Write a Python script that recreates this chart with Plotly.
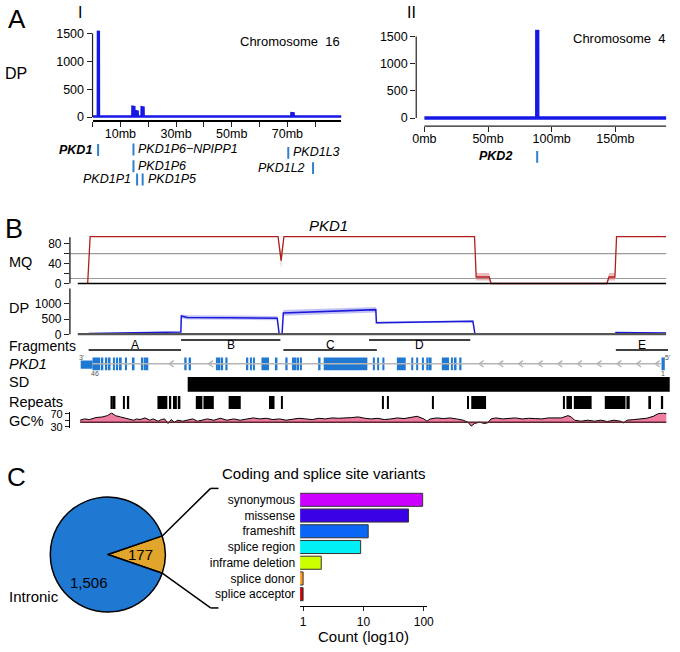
import math
import plotly.graph_objects as go

W, H = 680, 652
FONT = "Liberation Sans, Arial, Helvetica, sans-serif"

# ======================= DATA =======================
# ---- Panel A-I : chromosome 16 read depth (position Mb, DP)
chr16_mb = [0.0, 1.9, 1.95, 2.25, 2.3, 14.3, 14.35, 15.0, 15.05, 15.55, 15.6, 16.2, 16.25,
            17.6, 17.65, 18.3, 18.35, 71.4, 71.45, 72.2, 72.25, 89.4]
chr16_dp = [12, 12, 1530, 1530, 12, 12, 185, 180, 12, 12, 105, 100, 12,
            12, 175, 170, 12, 12, 70, 65, 12, 12]
chr16_tick_mb = [0, 10, 20, 30, 40, 50, 60, 70, 80]
chr16_tick_text = ["", "10mb", "", "30mb", "", "50mb", "", "70mb", ""]
chr16_genes = ["PKD1", "PKD1P6\u2212NPIPP1", "PKD1P6", "PKD1P1", "PKD1P5", "PKD1L3", "PKD1L2"]
chr16_gene_mb = [2.0, 14.7, 14.7, 16.0, 18.0, 70.3, 79.2]

# ---- Panel A-II : chromosome 4 read depth
chr4_mb = [0, 88.3, 88.35, 88.95, 89.0, 190]
chr4_dp = [0, 0, 1600, 1600, 0, 0]
chr4_tick_mb = [0, 50, 100, 150]
chr4_tick_text = ["0mb", "50mb", "100mb", "150mb"]
chr4_genes = ["PKD2"]
chr4_gene_mb = [88.6]

dp_ticks = [0, 500, 1000, 1500]

# ---- Panel B : PKD1 locus (position in kb)
mq_kb = [0.84, 1.05, 17.02, 17.28, 17.52, 33.72, 33.86, 34.97, 35.12, 44.96, 45.15, 45.65, 45.79, 50.0]
mq_mean = [0, 94, 94, 46, 94, 94, 13, 13, 0, 0, 13, 13, 94, 94]
mq_lo = [0, 94, 94, 30, 94, 94, 6, 6, 0, 0, 6, 6, 94, 94]
mq_hi = [0, 94, 94, 62, 94, 94, 21, 21, 0, 0, 21, 21, 94, 94]
mq_thresholds = [60, 10]
mq_ticks = [0, 20, 40, 60, 80]
mq_tick_text = ["0", "", "40", "", "80"]

dpb_kb = [0.92, 4.5, 8.76, 8.80, 9.3, 13.0, 16.95, 17.12, 17.36, 17.47, 21.0, 25.33, 25.38, 29.5, 33.58, 33.76, 45.70, 45.74, 50.0]
dpb_mean = [25, 45, 75, 600, 555, 545, 530, 0, 0, 700, 740, 810, 380, 405, 430, 0, 0, 60, 40]
dpb_lo = [25, 45, 75, 520, 485, 475, 460, 0, 0, 610, 650, 720, 350, 375, 400, 0, 0, 45, 30]
dpb_hi = [25, 45, 75, 660, 625, 615, 600, 0, 0, 800, 840, 900, 410, 435, 460, 0, 0, 75, 50]
dpb_ticks = [0, 500, 1000]

frag_names = ["A", "B", "C", "D", "E"]
frag_start = [0.92, 8.78, 17.47, 24.75, 45.73]
frag_end = [8.78, 17.22, 25.42, 33.36, 50.17]

utr_start = [0.25]
utr_end = [1.25]
exon_start = [1.25, 2.01, 2.34, 2.62, 2.99, 3.26, 3.57, 4.02, 4.66, 5.41, 5.63, 5.83,
              9.05, 9.42,
              11.79, 11.98, 12.23, 12.54,
              14.30, 14.63, 14.91, 15.61, 16.81, 17.64, 18.20, 18.45, 18.67, 18.90, 20.43, 20.90,
              25.08, 25.44, 25.89, 27.12, 28.34, 28.76, 29.26, 29.62, 29.91, 30.94, 31.71, 32.05, 32.42,
              49.61]
exon_end = [1.90, 2.17, 2.50, 2.78, 3.15, 3.42, 3.73, 4.18, 4.82, 5.57, 5.79, 5.99,
            9.25, 9.62,
            11.90, 12.12, 12.35, 12.73,
            14.49, 14.77, 15.05, 16.25, 16.97, 17.83, 18.37, 18.59, 18.81, 19.04, 20.63, 24.61,
            25.25, 25.61, 26.06, 27.87, 28.51, 28.93, 29.40, 29.82, 30.07, 31.55, 31.88, 32.19, 32.61,
            49.89]
intron_arrow_kb = [7.78, 11.12, 34.11, 35.78, 37.46, 39.13, 40.80, 42.47, 44.14, 45.82, 47.49, 49.08]

sd_start = [9.34]
sd_end = [50.31]

rep_start = [2.78, 3.07, 3.85, 4.26, 6.77, 7.75, 8.09, 8.50, 10.03, 10.68, 12.82, 16.25, 17.28,
             25.86, 26.28, 30.10, 33.08, 33.44, 41.24, 41.53, 42.16, 44.79, 46.63, 48.49, 49.61]
rep_end = [2.98, 3.20, 3.95, 4.37, 7.61, 7.94, 8.42, 8.72, 10.59, 11.56, 13.85, 16.72, 17.36,
           26.00, 26.42, 30.24, 33.25, 34.70, 41.39, 42.00, 43.67, 46.55, 46.91, 48.72, 49.75]

gc_kb = [0.20, 0.56, 0.98, 1.53, 2.09, 2.51, 2.87, 3.20, 3.62, 4.04, 4.46, 4.74, 5.02, 5.29, 5.71,
         6.13, 6.41, 6.83, 7.11, 7.38, 7.67, 7.94, 8.22, 8.50, 8.92, 9.34, 9.76, 10.18, 10.59, 11.01,
         11.56, 12.12, 12.68, 13.24, 13.80, 14.36, 14.91, 15.47, 16.03, 16.58, 17.14, 17.70, 18.25,
         18.81, 19.37, 19.92, 20.48, 21.04, 21.60, 22.16, 23.27, 23.83, 24.39, 24.94, 25.50, 26.06,
         26.61, 27.17, 27.73, 28.29, 28.85, 29.41, 29.68, 29.96, 30.52, 31.08, 31.63, 32.19, 32.75,
         33.16, 33.44, 33.72, 34.14, 34.56, 34.84, 35.12, 35.53, 36.09, 36.65, 37.21, 37.77, 38.32,
         38.88, 39.44, 39.99, 40.55, 41.11, 41.66, 41.94, 42.22, 42.78, 43.34, 43.90, 44.45, 45.01,
         45.57, 46.13, 46.40, 46.68, 47.24, 47.80, 48.35, 48.91, 49.33, 49.75, 50.02]
gc_pct = [50.5, 54.6, 52.5, 58.7, 60.8, 64.9, 73.1, 64.9, 60.8, 57.7, 54.6, 50.5, 54.6, 52.5, 57.7,
          50.5, 54.6, 47.4, 52.5, 54.6, 40.2, 52.5, 44.3, 50.5, 47.4, 50.5, 54.6, 47.4, 50.5, 54.6,
          50.5, 56.6, 50.5, 54.6, 50.5, 54.6, 57.7, 54.6, 56.6, 52.5, 54.6, 50.5, 54.6,
          56.6, 54.6, 52.5, 56.6, 54.6, 57.7, 56.6, 58.7, 60.8, 56.6, 54.6, 56.6, 52.5,
          54.6, 57.7, 55.6, 58.7, 62.8, 54.6, 47.4, 54.6, 57.7, 55.6, 57.7, 54.6, 50.5,
          44.3, 32.0, 40.2, 44.3, 40.2, 42.3, 54.6, 57.7, 54.6, 56.6, 57.7, 54.6, 56.6,
          55.6, 54.6, 57.7, 56.6, 57.7, 64.9, 60.8, 50.5, 47.4, 50.5, 47.4, 50.5, 46.4,
          50.5, 47.4, 42.3, 50.5, 52.5, 54.6, 56.6, 62.8, 71.0, 73.1, 71.0]
gc_base = 44.3
gc_ticks = [30, 50, 70]
gc_tick_text = ["30", "", "70"]

# ---- Panel C
pie_labels = ["Coding and splice site", "Intronic"]
pie_values = [177, 1506]
pie_text = ["177", "1,506"]
var_types = ["synonymous", "missense", "frameshift", "splice region",
             "inframe deletion", "splice donor", "splice acceptor"]
var_counts = [96, 56, 12, 9, 2, 1, 1]
var_colors = ["#cc00ff", "#3a00e6", "#0a66f5", "#00f0f5", "#ccff00", "#ff9a1a", "#cc0000"]
count_ticks = [1, 10, 100]

# ======================= HELPERS =======================
def X(p):
    return p / W


def Y(p):
    return 1 - p / H


def dom_x(a, b):
    return [a / W, b / W]


def dom_y(top, bottom):
    return [1 - bottom / H, 1 - top / H]


def ann(text, x, y, size, xanchor="center", yanchor="middle", xref="paper", yref="paper", **kw):
    d = dict(text=text, showarrow=False, xanchor=xanchor, yanchor=yanchor,
             font=dict(size=size, color="black", family=FONT), xref=xref, yref=yref)
    d["x"] = X(x) if xref == "paper" else x
    d["y"] = Y(y) if yref == "paper" else y
    d.update(kw)
    return d


BLUE_A = "#1717e6"
GENE_BLUE = "#1f78d2"
fig = go.Figure()
common = dict(hoverinfo="skip", showlegend=False)

# ---------- Panel A ----------
fig.add_trace(go.Scatter(x=chr16_mb, y=chr16_dp, xaxis="x", yaxis="y", mode="lines",
                         line=dict(color=BLUE_A, width=2.5), **common))
fig.add_trace(go.Scatter(x=chr4_mb, y=chr4_dp, xaxis="x2", yaxis="y2", mode="lines",
                         line=dict(color=BLUE_A, width=3.5), **common))

# ---------- Panel B : MQ ----------
fig.add_trace(go.Scatter(x=mq_kb, y=mq_lo, xaxis="x3", yaxis="y3", mode="lines",
                         line=dict(width=0, color="rgba(0,0,0,0)"), **common))
fig.add_trace(go.Scatter(x=mq_kb, y=mq_hi, xaxis="x3", yaxis="y3", mode="lines",
                         line=dict(width=0, color="rgba(0,0,0,0)"), fill="tonexty",
                         fillcolor="rgba(214,105,105,0.45)", **common))
fig.add_trace(go.Scatter(x=mq_kb, y=mq_mean, xaxis="x3", yaxis="y3", mode="lines",
                         line=dict(color="#b01e1e", width=1.3), **common))

# ---------- Panel B : DP ----------
fig.add_trace(go.Scatter(x=dpb_kb, y=dpb_lo, xaxis="x3", yaxis="y4", mode="lines",
                         line=dict(width=0, color="rgba(0,0,0,0)"), **common))
fig.add_trace(go.Scatter(x=dpb_kb, y=dpb_hi, xaxis="x3", yaxis="y4", mode="lines",
                         line=dict(width=0, color="rgba(0,0,0,0)"), fill="tonexty",
                         fillcolor="rgba(120,120,240,0.45)", **common))
fig.add_trace(go.Scatter(x=dpb_kb, y=dpb_mean, xaxis="x3", yaxis="y4", mode="lines",
                         line=dict(color="#1a1ad6", width=1.5), **common))

# ---------- Panel B : tracks (y5 in pixel-like units) ----------
LOW, HIGH = 351, 340.7
fx, fy = [], []
for i, (s, e) in enumerate(zip(frag_start, frag_end)):
    lvl = LOW if i % 2 == 0 else HIGH
    fx += [s, e, None]
    fy += [lvl, lvl, None]
fig.add_trace(go.Scatter(x=fx, y=fy, xaxis="x3", yaxis="y5", mode="lines",
                         line=dict(color="black", width=1.5), **common))

GENE_Y = 365
fig.add_trace(go.Scatter(x=[utr_end[0], exon_start[-1]], y=[GENE_Y, GENE_Y], xaxis="x3", yaxis="y5",
                         mode="lines", line=dict(color="#b5b5b5", width=1.5), **common))
cx_, cy_ = [], []
for a in intron_arrow_kb:
    cx_ += [a + 0.38, a, a + 0.38, None]
    cy_ += [GENE_Y - 3.2, GENE_Y, GENE_Y + 3.2, None]
fig.add_trace(go.Scatter(x=cx_, y=cy_, xaxis="x3", yaxis="y5", mode="lines",
                         line=dict(color="#b5b5b5", width=1.4), **common))

fig.add_trace(go.Bar(orientation="h", base=utr_start, x=[e - s for s, e in zip(utr_start, utr_end)],
                     y=[GENE_Y + 0.8] * len(utr_start), width=8.3, xaxis="x3", yaxis="y5",
                     marker=dict(color=GENE_BLUE, line=dict(width=0)), **common))
fig.add_trace(go.Bar(orientation="h", base=exon_start, x=[e - s for s, e in zip(exon_start, exon_end)],
                     y=[GENE_Y] * len(exon_start), width=13, xaxis="x3", yaxis="y5",
                     marker=dict(color=GENE_BLUE, line=dict(width=0)), **common))
fig.add_trace(go.Bar(orientation="h", base=sd_start, x=[e - s for s, e in zip(sd_start, sd_end)],
                     y=[385.8] * len(sd_start), width=15, xaxis="x3", yaxis="y5",
                     marker=dict(color="black", line=dict(width=0)), **common))
fig.add_trace(go.Bar(orientation="h", base=rep_start, x=[e - s for s, e in zip(rep_start, rep_end)],
                     y=[404.3] * len(rep_start), width=13.3, xaxis="x3", yaxis="y5",
                     marker=dict(color="black", line=dict(width=0)), **common))

# ---------- Panel B : GC% ----------
fig.add_trace(go.Scatter(x=[gc_kb[0], gc_kb[-1]], y=[gc_base, gc_base], xaxis="x3", yaxis="y6",
                         mode="lines", line=dict(width=0, color="rgba(0,0,0,0)"), **common))
fig.add_trace(go.Scatter(x=gc_kb, y=gc_pct, xaxis="x3", yaxis="y6", mode="lines", fill="tonexty",
                         fillcolor="#ee7c9e", line=dict(color="black", width=1), **common))
fig.add_trace(go.Scatter(x=[gc_kb[0], gc_kb[-1]], y=[gc_base, gc_base], xaxis="x3", yaxis="y6",
                         mode="lines", line=dict(color="#5e2633", width=1.5), **common))

# ---------- Panel C : pie ----------
PIE_CX, PIE_CY, PIE_R = 105.5, 559, 58.5
half = 180.0 * pie_values[0] / sum(pie_values)
fig.add_trace(go.Pie(values=pie_values, labels=pie_labels, sort=False, direction="clockwise",
                     rotation=90 - half, textinfo="none", hoverinfo="skip", showlegend=False,
                     marker=dict(colors=["#e2a52b", GENE_BLUE], line=dict(color="black", width=1.5)),
                     domain=dict(x=dom_x(PIE_CX - PIE_R, PIE_CX + PIE_R),
                                 y=dom_y(PIE_CY - PIE_R, PIE_CY + PIE_R))))

# ---------- Panel C : bars ----------
fig.add_trace(go.Bar(orientation="h", y=var_types, x=var_counts, xaxis="x7", yaxis="y7", width=0.83,
                     marker=dict(color=var_colors, line=dict(color="#333333", width=1)), **common))

# ======================= AXES =======================
noax = dict(showgrid=False, zeroline=False)
tick_common = dict(ticks="outside", ticklen=5, tickwidth=1, tickcolor="#222222",
                   tickfont=dict(size=12.5, family=FONT, color="black"))
KB_RANGE = [-0.669, 50.42]
KB_DOM = dom_x(67, 678)

layout_axes = dict(
    xaxis=dict(domain=dom_x(90, 343), range=[0, 89.4], anchor="y", showline=True, linewidth=2,
               linecolor="black", tickvals=chr16_tick_mb, ticktext=chr16_tick_text,
               ticklabelstandoff=-4, **tick_common, **noax),
    yaxis=dict(domain=dom_y(25.6, 116.8), range=[-50, 1560], anchor="x", showline=False,
               tickvals=dp_ticks, **tick_common, **noax),
    xaxis2=dict(domain=dom_x(419, 673.3), range=[-6.41, 190.1], anchor="y2", showline=False,
                tickvals=chr4_tick_mb, ticktext=chr4_tick_text, ticklabelstandoff=-4,
                **tick_common, **noax),
    yaxis2=dict(domain=dom_y(25.3, 123.3), range=[-150, 1620], anchor="x2", showline=False,
                tickvals=dp_ticks, **tick_common, **noax),
    xaxis3=dict(domain=KB_DOM, range=KB_RANGE, anchor="y3", visible=False, **noax),
    yaxis3=dict(domain=dom_y(234.1, 284.8), range=[-3, 97], anchor="x3", showline=False,
                tickvals=mq_ticks, ticktext=mq_tick_text,
                **dict(tick_common, tickfont=dict(size=12, family=FONT, color="black")), **noax),
    yaxis4=dict(domain=dom_y(286.6, 336.24), range=[-40, 1560], anchor="x3", showline=False,
                tickvals=dpb_ticks,
                **dict(tick_common, tickfont=dict(size=12, family=FONT, color="black")), **noax),
    yaxis5=dict(domain=dom_y(337, 412), range=[412, 337], anchor="x3", visible=False, **noax),
    yaxis6=dict(domain=dom_y(414.4, 430.6), range=[25, 75], anchor="x3", showline=True,
                linecolor="black", linewidth=1, tickvals=gc_ticks, ticktext=gc_tick_text,
                **dict(tick_common, ticklen=4, tickfont=dict(size=11, family=FONT, color="black")), **noax),
    xaxis7=dict(domain=dom_x(301, 429.7), type="log", range=[-0.049, 2.05], anchor="y7",
                showline=True, linecolor="black", linewidth=1, tickvals=count_ticks,
                ticktext=[str(v) for v in count_ticks],
                **dict(tick_common, ticklen=4, tickfont=dict(size=12, family=FONT, color="black")), **noax),
    yaxis7=dict(domain=dom_y(495.3, 611.8), type="category", categoryorder="array",
                categoryarray=var_types, range=[6.78, -0.5], anchor="x7", showline=False,
                ticks="", ticklabelstandoff=4, tickfont=dict(size=12, family=FONT, color="black"), **noax),
)

# ======================= SHAPES =======================
shapes = []
shapes.append(dict(type="line", xref="x domain", yref="y", x0=0, x1=0, y0=0, y1=1500,
                   line=dict(color="#222222", width=1.2)))
shapes.append(dict(type="line", xref="x2 domain", yref="y2", x0=0, x1=0, y0=0, y1=1500,
                   line=dict(color="#222222", width=1.2)))
shapes.append(dict(type="line", xref="x2", yref="y2 domain", x0=0, x1=190, y0=0, y1=0,
                   line=dict(color="#222222", width=1.2)))
shapes.append(dict(type="line", xref="x3 domain", yref="y3", x0=0, x1=0, y0=0, y1=93,
                   line=dict(color="black", width=1.2)))
shapes.append(dict(type="line", xref="x3 domain", yref="y4", x0=0, x1=0, y0=0, y1=1500,
                   line=dict(color="black", width=1.2)))
for t in mq_thresholds:
    shapes.append(dict(type="line", xref="x3 domain", yref="y3", x0=0, x1=0.992, y0=t, y1=t,
                       layer="below", line=dict(color="#9a9a9a", width=1.2)))
shapes.append(dict(type="line", xref="x3", yref="y3", x0=0, x1=50, y0=0, y1=0,
                   line=dict(color="black", width=1.5)))
shapes.append(dict(type="line", xref="x3", yref="y4", x0=0, x1=50, y0=0, y1=0,
                   line=dict(color="#555555", width=2.5)))

gene_layout_16 = {
    "PKD1": (147.5, "left", 5, True),
    "PKD1P6\u2212NPIPP1": (147.0, "right", 4, False),
    "PKD1P6": (164.0, "right", 4, False),
    "PKD1P1": (177.5, "left", 5, False),
    "PKD1P5": (177.5, "right", 4, False),
    "PKD1L3": (150.5, "right", 4, False),
    "PKD1L2": (166.0, "left", 7, False),
}
gene_layout_4 = {"PKD2": (154.5, "left", 24, True)}

annotations = []


def gene_marks(genes, positions, table, xref):
    for g, pos in zip(genes, positions):
        row, side, gap, bold = table[g]
        shapes.append(dict(type="line", xref=xref, yref="paper", x0=pos, x1=pos,
                           y0=Y(row - 6), y1=Y(row + 6), line=dict(color="#2f80d0", width=2)))
        txt = "<b><i>%s</i></b>" % g if bold else "<i>%s</i>" % g
        annotations.append(dict(text=txt, x=pos, y=Y(row - 0.5), xref=xref, yref="paper",
                                xanchor="right" if side == "left" else "left", yanchor="middle",
                                xshift=-gap if side == "left" else gap, showarrow=False,
                                borderpad=0,
                                font=dict(size=12.5, family=FONT, color="black")))


gene_marks(chr16_genes, chr16_gene_mb, gene_layout_16, "x")
gene_marks(chr4_genes, chr4_gene_mb, gene_layout_4, "x2")

# pie call-out lines
a_up = math.radians(half)
ux, uy = PIE_CX + PIE_R * math.cos(a_up), PIE_CY - PIE_R * math.sin(a_up)
lx, ly = PIE_CX + PIE_R * math.cos(a_up), PIE_CY + PIE_R * math.sin(a_up)
for (sx, sy), ty in [((ux, uy), 491.7), ((lx, ly), 613.3)]:
    shapes.append(dict(type="line", xref="paper", yref="paper", x0=X(sx), y0=Y(sy), x1=X(210), y1=Y(ty),
                       line=dict(color="black", width=1.5)))
    shapes.append(dict(type="line", xref="paper", yref="paper", x0=X(210), y0=Y(ty), x1=X(218), y1=Y(ty),
                       line=dict(color="black", width=1.5)))

# ======================= TEXT =======================
annotations += [
    ann("A", 13, 14, 26), ann("I", 77, 8, 16), ann("II", 414, 8, 16),
    ann("DP", 12.5, 70, 16),
    ann("Chromosome\u00a0 16", 291, 37, 13), ann("Chromosome\u00a0 4", 625, 34, 13),
    ann("B", 10.5, 228, 27), ann("<i>PKD1</i>", 330, 224, 15),
    ann("MQ", 3, 261, 14.5, xanchor="left"), ann("DP", 3, 308, 14.5, xanchor="left"),
    ann("Fragments", 3, 346.5, 14, xanchor="left"), ann("<i>PKD1</i>", 3, 365, 14.5, xanchor="left"),
    ann("SD", 3, 383.3, 14.5, xanchor="left"), ann("Repeats", 3, 404.3, 14.5, xanchor="left"),
    ann("GC%", 3, 423, 14.5, xanchor="left"),
    ann("C", 12.5, 480, 26),
    ann(pie_text[0], 139, 559, 15), ann(pie_text[1], 86.5, 587, 15),
    ann("Intronic", 3, 602, 15, xanchor="left"),
    ann("Coding and splice site variants", 325, 476.7, 15),
    ann("Count (log10)", 365, 642.5, 15),
]
for n, s, e in zip(frag_names, frag_start, frag_end):
    annotations.append(dict(text=n, x=(s + e) / 2, y=346, xref="x3", yref="y5", showarrow=False,
                            font=dict(size=12, family=FONT, color="black")))
small = dict(size=7, family=FONT, color="#555555")
annotations += [
    dict(text="3'", x=0.33, y=358.3, xref="x3", yref="y5", showarrow=False, font=small),
    dict(text="46", x=1.44, y=375, xref="x3", yref="y5", showarrow=False, font=small),
    dict(text="5'", x=50.08, y=359, xref="x3", yref="y5", showarrow=False, font=small),
    dict(text="1", x=49.71, y=374.5, xref="x3", yref="y5", showarrow=False, font=small),
]

fig.update_layout(
    width=W, height=H, margin=dict(l=0, r=0, t=0, b=0),
    paper_bgcolor="white", plot_bgcolor="rgba(0,0,0,0)",
    font=dict(family=FONT, color="black"), showlegend=False, barmode="overlay",
    shapes=shapes, annotations=annotations, **layout_axes,
)

fig.write_html("out.html", config={"displayModeBar": False},
               post_script="document.body.style.margin='0px';")
